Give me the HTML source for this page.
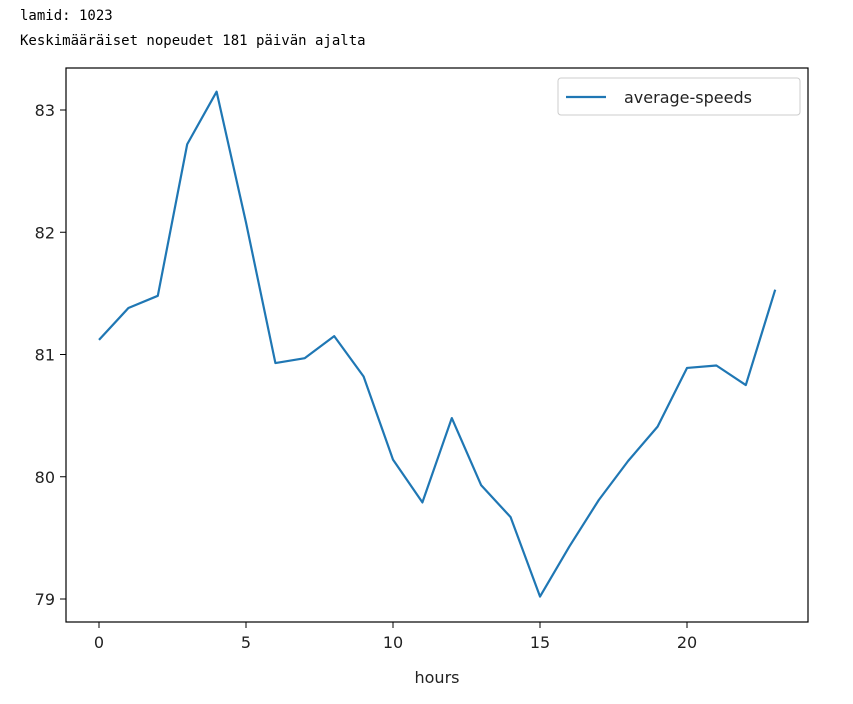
<!DOCTYPE html>
<html><head><meta charset="utf-8"><style>
body{margin:0;background:#fff;width:853px;height:704px;overflow:hidden}
.t{position:absolute;left:20px;font-family:"DejaVu Sans Mono","Liberation Mono",monospace;font-size:14px;color:#000}
</style></head><body>
<div class="t" style="top:8px">lamid: 1023</div>
<div class="t" style="top:33px">Keskimääräiset nopeudet 181 päivän ajalta</div>
<svg id="c" width="853" height="704" style="position:absolute;left:0;top:0;font-family:'DejaVu Sans','Liberation Sans',sans-serif"></svg>
<script>
const hours=[0,1,2,3,4,5,6,7,8,9,10,11,12,13,14,15,16,17,18,19,20,21,22,23];
const speeds=[81.12,81.38,81.48,82.72,83.15,82.08,80.93,80.97,81.15,80.82,80.14,79.79,80.48,79.93,79.67,79.02,79.43,79.81,80.13,80.41,80.89,80.91,80.75,81.53];
const xTicks=[0,5,10,15,20];
const yTicks=[79,80,81,82,83];
const svg=document.getElementById('c');const NS='http://www.w3.org/2000/svg';
const L=66,R=808,T=68,B=622;
const x=v=>99+(v-0)*(687-99)/20;
const y=v=>599-(v-79)*(599-110)/4;
function mk(t,a,p){const e=document.createElementNS(NS,t);for(const k in a)e.setAttribute(k,a[k]);(p||svg).appendChild(e);return e;}
xTicks.forEach(v=>{const g=mk('g',{});


mk('line',{x1:x(v),x2:x(v),y1:B,y2:B+6,stroke:'#000'},g);
const t=mk('text',{x:x(v),y:B+26,'text-anchor':'middle','font-size':16,fill:'#222'},g);t.textContent=v;});
yTicks.forEach(v=>{const g=mk('g',{});


mk('line',{x1:L-6,x2:L,y1:y(v),y2:y(v),stroke:'#000'},g);
const t=mk('text',{x:L-11,y:y(v)+6,'text-anchor':'end','font-size':16,fill:'#222'},g);t.textContent=v;});
const pts=hours.map((h,i)=>x(h)+','+y(speeds[i])).join(' ');
const pl=mk('polyline',{points:pts,fill:'none',stroke:'#1f77b4','stroke-width':2.2,'stroke-linejoin':'round'});


const fr=mk('rect',{x:L,y:T,width:R-L,height:B-T,fill:'none',stroke:'#000','stroke-width':1.2});


const xl=mk('text',{x:(L+R)/2,y:683,'text-anchor':'middle','font-size':16,fill:'#222'});xl.textContent='hours';


const lg=mk('g',{});


mk('rect',{x:558,y:78,width:242,height:37,rx:3,fill:'#fff',stroke:'#ccc'},lg);
mk('line',{x1:566,x2:606,y1:97,y2:97,stroke:'#1f77b4','stroke-width':2.2},lg);
const lt=mk('text',{x:624,y:103,'font-size':16,fill:'#222'},lg);lt.textContent='average-speeds';
</script>
</body></html>
